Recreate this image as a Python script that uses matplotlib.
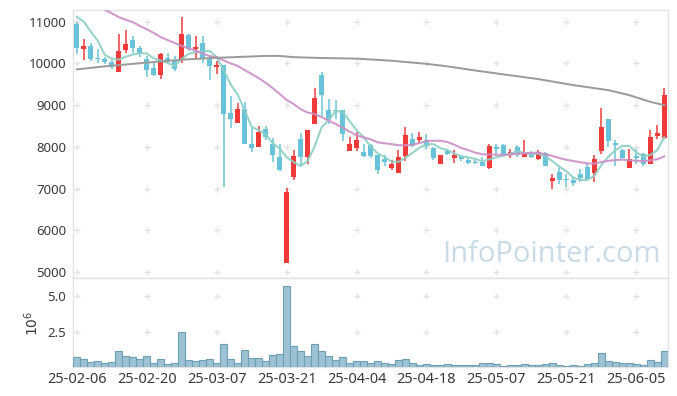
import numpy as np
import pandas as pd
import matplotlib.pyplot as plt

# daily candles, 2025-02-06 .. 2025-06-12 (KRX trading days)
opens = [10950, 10350, 10420, 10130, 10100, 10030, 9800, 10320, 10560, 10360,
         10100, 9880, 9730, 10120, 10080, 10080, 10670, 10340, 10500, 10120,
         9920, 9960, 8810, 8580, 8900, 8080, 8000, 8440, 8080, 7760,
         5220, 7280, 8200, 7760, 8560, 9720, 8880, 8880, 8880, 7910,
         7980, 7880, 8040, 7800, 7720, 7505, 7380, 7780, 8180, 8160,
         8160, 7980, 7600, 7900, 7745, 7780, 7680, 7640, 7640, 7505,
         8000, 8040, 7800, 8000, 7760, 7860, 7700, 7860, 7185, 7400,
         7240, 7217, 7360, 7520, 7380, 7910, 8660, 8100, 7920, 7500,
         7780, 7840, 7590, 8260, 8220]
highs = [11000, 10580, 10490, 10340, 10160, 10080, 10700, 10810, 10660, 10410,
         10180, 10070, 10260, 10240, 10170, 11110, 10700, 10650, 10650, 10200,
         10050, 9960, 9210, 9060, 9070, 8460, 8500, 8500, 8220, 8080,
         7010, 7920, 8340, 8410, 9400, 9800, 9150, 9120, 8890, 8240,
         8350, 8080, 8080, 7810, 7800, 7680, 7920, 8480, 8340, 8350,
         8320, 7990, 7810, 7960, 7920, 7800, 7745, 7720, 7760, 8060,
         8080, 8080, 7960, 8040, 8160, 7900, 7920, 7880, 7345, 7520,
         7345, 7280, 7480, 7600, 7800, 8920, 8670, 8170, 7960, 7960,
         7940, 7850, 8400, 8520, 9400]
lows = [10220, 10080, 10070, 10000, 9980, 9860, 9790, 10260, 10260, 10150,
        9680, 9700, 9620, 10000, 9810, 10020, 10300, 10110, 10000, 9600,
        9745, 7050, 8460, 8570, 8060, 7880, 7990, 8160, 7640, 7420,
        5220, 7210, 7540, 7600, 8545, 8740, 8550, 8680, 8150, 7900,
        7900, 7760, 7740, 7345, 7540, 7440, 7370, 7650, 8000, 8080,
        7960, 7690, 7595, 7800, 7620, 7660, 7585, 7580, 7545, 7480,
        7840, 7780, 7740, 7760, 7760, 7745, 7697, 7540, 7000, 7110,
        7040, 7060, 7160, 7220, 7160, 7830, 8000, 7550, 7720, 7495,
        7600, 7540, 7580, 8200, 8180]
closes = [10370, 10420, 10100, 10110, 10030, 9920, 10290, 10460, 10360, 10220,
          9850, 9720, 10220, 10040, 9870, 10700, 10340, 10400, 10120, 9940,
          9960, 8790, 8670, 8910, 8070, 7980, 8350, 8240, 7800, 7450,
          6920, 7780, 7760, 8400, 9160, 9240, 8640, 8850, 8310, 8060,
          8160, 7780, 7780, 7440, 7640, 7585, 7760, 8280, 8030, 8240,
          8030, 7740, 7800, 7820, 7800, 7700, 7620, 7620, 7550, 8010,
          7960, 7800, 7880, 7810, 7860, 7760, 7880, 7545, 7255, 7200,
          7200, 7140, 7250, 7240, 7700, 8480, 8140, 8040, 7745, 7700,
          7740, 7600, 8240, 8330, 9240]
volumes = [0.73, 0.59, 0.38, 0.48, 0.31, 0.38, 1.15, 0.83, 0.73, 0.62,
           0.83, 0.31, 0.59, 0.24, 0.31, 2.48, 0.52, 0.48, 0.52, 0.59,
           0.31, 1.64, 0.59, 0.31, 1.22, 0.66, 0.66, 0.45, 0.87, 0.94,
           5.69, 1.50, 1.15, 0.80, 1.64, 1.15, 0.80, 0.52, 0.73, 0.31,
           0.45, 0.45, 0.31, 0.45, 0.31, 0.24, 0.52, 0.59, 0.31, 0.17,
           0.24, 0.17, 0.17, 0.24, 0.17, 0.17, 0.17, 0.17, 0.31, 0.31,
           0.24, 0.10, 0.17, 0.17, 0.24, 0.17, 0.17, 0.24, 0.31, 0.17,
           0.10, 0.17, 0.10, 0.24, 0.31, 1.01, 0.45, 0.38, 0.31, 0.31,
           0.24, 0.17, 0.52, 0.38, 1.15]  # millions

# moving-average values before enough in-window history exists
ma5_head = [11120, 11000, 10760, 10545]
ma20_head = [11700, 11580, 11470, 11370, 11290, 11200, 11110, 11045, 10990, 10900,
             10820, 10730, 10630, 10560, 10490, 10420, 10360, 10300, 10240]
# long MA (grey), read at these candle indices
ma_long_idx = [0, 4, 8, 12, 16, 20, 24, 27, 29, 31, 35, 40, 45, 50, 53, 57, 62, 66, 71, 76, 79, 82, 84]
ma_long_val = [9857, 9930, 9990, 10050, 10100, 10135, 10160, 10180, 10180, 10150, 10130, 10115,
               10065, 9990, 9930, 9830, 9715, 9625, 9480, 9360, 9240, 9080, 9000]

tick_idx = [0, 10, 20, 30, 40, 50, 60, 70, 80]
tick_labels = ['25-02-06', '25-02-20', '25-03-07', '25-03-21', '25-04-04',
               '25-04-18', '25-05-07', '25-05-21', '25-06-05']

df = pd.DataFrame({'open': opens, 'high': highs, 'low': lows, 'close': closes, 'vol': volumes})
x = np.arange(len(df))
ma5 = df['close'].rolling(5).mean().values
ma5[:4] = ma5_head
ma20 = df['close'].rolling(20).mean().values
ma20[:19] = ma20_head

RED = '#F03A3A'
BLUE = '#68C3DA'
GRID = '#e2e2e2'
TXT = '#3a3a3a'
plt.rcParams['font.family'] = ['Noto Sans', 'DejaVu Sans']

fig = plt.figure(figsize=(6.77, 3.96), dpi=100)
ax1 = fig.add_axes([0.1083, 0.2972, 0.878, 0.6775])
ax2 = fig.add_axes([0.1083, 0.072, 0.878, 0.2253], sharex=ax1)

up = df['close'] >= df['open']
cols = np.where(up, RED, BLUE)
body_lo = np.minimum(df['open'], df['close'])
body_h = np.maximum((df['close'] - df['open']).abs(), 25)

ax1.vlines(x, df['low'], df['high'], colors=cols, linewidth=1.1, zorder=3)
ax1.bar(x, body_h, bottom=body_lo, width=0.7, color=cols, linewidth=0, zorder=4)

ax1.plot(x, ma5, color='#8ccfc4', lw=1.5, zorder=5, alpha=0.9)
ax1.plot(x, ma20, color='#cc8fc6', lw=1.5, zorder=5, alpha=0.9)
ax1.plot(ma_long_idx, ma_long_val, color='#9a9a9a', lw=1.4, zorder=5)

ax2.bar(x, df['vol'], width=1.0, color='#9cc2d3', edgecolor='#6d9fb7', linewidth=0.8, zorder=3)

ax1.set_xlim(-0.5, 84.5)
ax1.set_ylim(4850, 11280)
ax2.set_ylim(0, 6.25)

ax1.set_yticks(range(5000, 11001, 1000))
ax2.set_yticks([2.5, 5.0])
ax2.set_yticklabels(['2.5', '5.0'])
ax2.set_xticks(tick_idx)
ax2.set_xticklabels(tick_labels)
ax2.set_ylabel(r'$10^6$', fontsize=10, color=TXT, labelpad=4)

# plus-shaped grid marks at tick intersections
gx, gy = np.meshgrid(tick_idx, range(5000, 11001, 1000))
ax1.plot(gx.ravel(), gy.ravel(), '+', color=GRID, ms=4, mew=1, zorder=1)
gx2, gy2 = np.meshgrid(tick_idx, [2.5, 5.0])
ax2.plot(gx2.ravel(), gy2.ravel(), '+', color=GRID, ms=4, mew=1, zorder=1)

for ax in (ax1, ax2):
    for s in ax.spines.values():
        s.set_color('#e2e2e2')
        s.set_linewidth(1)
    ax.tick_params(length=0, labelsize=9.5, colors=TXT, pad=5)
ax1.tick_params(labelbottom=False)
ax2.tick_params(axis='x', pad=3, labelsize=10.5)

ax1.text(0.805, 0.087, 'InfoPointer.com', transform=ax1.transAxes, ha='center', va='center',
         fontsize=21, color='#c8dbe6', family='Open Sans', zorder=2)

fig.savefig('out.png', dpi=100)
